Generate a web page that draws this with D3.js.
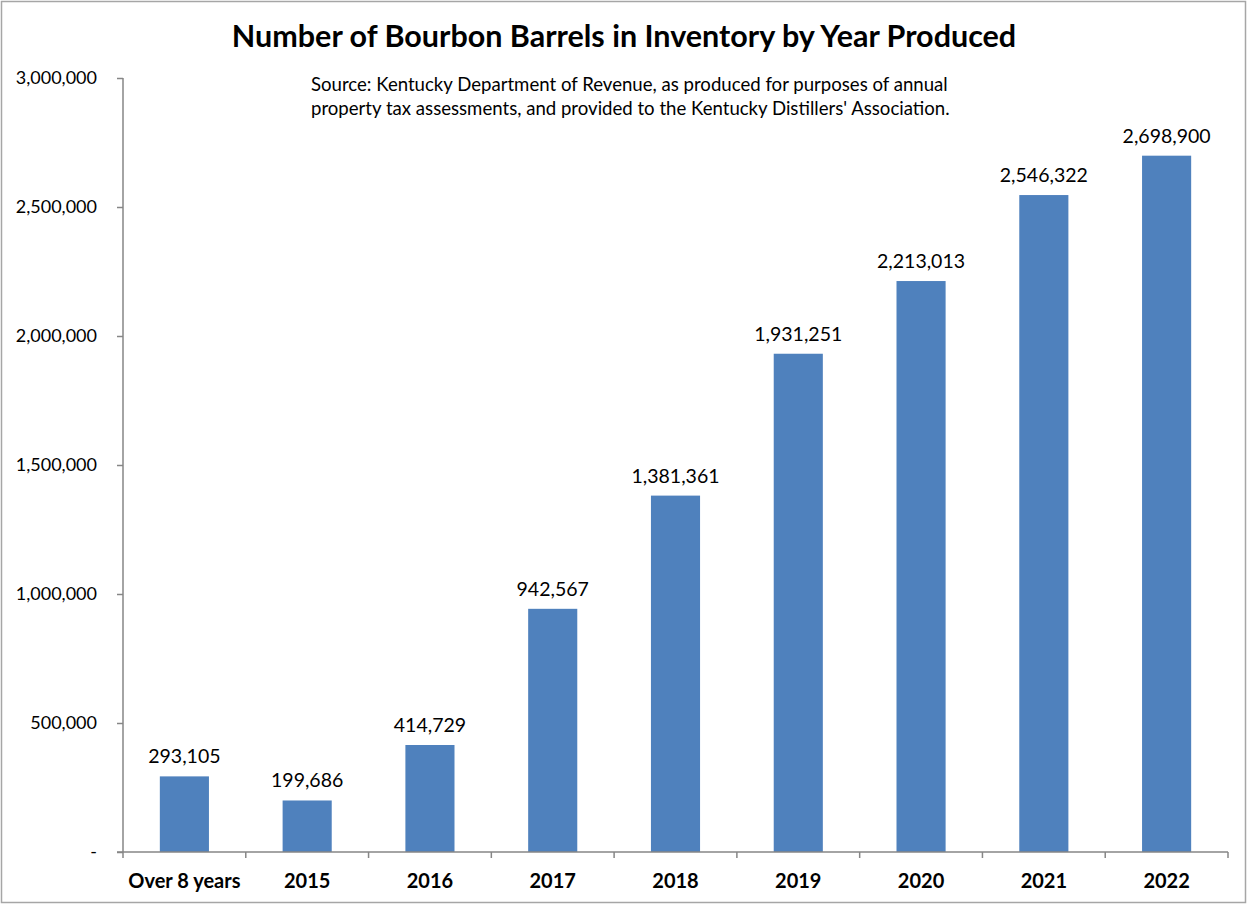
<!DOCTYPE html>
<html>
<head>
<meta charset="utf-8">
<script src="https://cdn.jsdelivr.net/npm/d3@7"></script>
<style>
  html, body { margin: 0; padding: 0; background: #fff; }
  svg { display: block; }
  text { font-family: Lato, "Open Sans", sans-serif; fill: #000; }
</style>
</head>
<body>
<svg id="chart" width="1247" height="904"></svg>
<script>
// Barrels in inventory, by year produced
const categories = ["Over 8 years", "2015", "2016", "2017", "2018", "2019", "2020", "2021", "2022"];
const barrels = [293105, 199686, 414729, 942567, 1381361, 1931251, 2213013, 2546322, 2698900];
const yTicks = [0, 500000, 1000000, 1500000, 2000000, 2500000, 3000000];

const titleText = "Number of Bourbon Barrels in Inventory by Year Produced";
const sourceLines = [
  "Source: Kentucky Department of Revenue, as produced for purposes of annual",
  "property tax assessments, and provided to the Kentucky Distillers' Association."
];

const W = 1247, H = 904;
const margin = { left: 123, right: 19, top: 78, bottom: 52 };
const svg = d3.select("#chart");

// outer frame
svg.append("rect")
  .attr("x", 1.5).attr("y", 1.5)
  .attr("width", W - 3).attr("height", H - 3)
  .attr("fill", "#fff").attr("stroke", "#a6a6a6").attr("stroke-width", 1.5);

const x = d3.scaleBand()
  .domain(categories)
  .range([margin.left, W - margin.right])
  .paddingInner(0.6).paddingOuter(0.3);

const y = d3.scaleLinear()
  .domain([0, 3000000])
  .range([H - margin.bottom, margin.top]);

const fmt = d3.format(",");
const axisColor = "#868686";

// bars
svg.append("g").selectAll("rect")
  .data(barrels)
  .join("rect")
  .attr("x", (d, i) => x(categories[i]))
  .attr("y", d => y(d))
  .attr("width", x.bandwidth())
  .attr("height", d => y(0) - y(d))
  .attr("fill", "#4F81BD");

// value labels
svg.append("g").selectAll("text")
  .data(barrels)
  .join("text")
  .attr("x", (d, i) => x(categories[i]) + x.bandwidth() / 2)
  .attr("y", d => y(d) - 13)
  .attr("text-anchor", "middle")
  .style("font-size", "19.5px")
  .text(d => fmt(d));

// y axis
const yAxis = d3.axisLeft(y)
  .tickValues(yTicks)
  .tickSize(6)
  .tickPadding(20)
  .tickFormat(d => d === 0 ? "-" : fmt(d));
const gy = svg.append("g")
  .attr("transform", `translate(${margin.left},0)`)
  .call(yAxis);
gy.select(".domain").attr("stroke", axisColor).attr("stroke-width", 1.5).attr("d", `M0,${y(0)}V${y(3000000)}`);
gy.selectAll(".tick line").attr("stroke", axisColor).attr("stroke-width", 1.5);
gy.selectAll(".tick text").style("font-size", "18px").attr("fill", "#000")
  .style("font-family", "Lato, sans-serif");

// x axis with ticks on category boundaries
const boundaries = d3.range(categories.length + 1).map(i => margin.left + i * (W - margin.right - margin.left) / categories.length);
const gx = svg.append("g");
gx.append("line")
  .attr("x1", margin.left - 6).attr("x2", W - margin.right)
  .attr("y1", y(0)).attr("y2", y(0))
  .attr("stroke", axisColor).attr("stroke-width", 1.5);
gx.selectAll("line.t")
  .data(boundaries)
  .join("line")
  .attr("class", "t")
  .attr("x1", d => d).attr("x2", d => d)
  .attr("y1", y(0)).attr("y2", y(0) + 6)
  .attr("stroke", axisColor).attr("stroke-width", 1.5);
gx.selectAll("text")
  .data(categories)
  .join("text")
  .attr("x", d => x(d) + x.bandwidth() / 2)
  .attr("y", y(0) + 36)
  .attr("text-anchor", "middle")
  .style("font-size", "20px")
  .style("font-weight", "bold")
  .text(d => d);

// title
svg.append("text")
  .attr("x", 624).attr("y", 47)
  .attr("text-anchor", "middle")
  .style("font-size", "30.5px")
  .style("font-weight", "bold")
  .text(titleText);

// source note
svg.append("g").selectAll("text")
  .data(sourceLines)
  .join("text")
  .attr("x", 311)
  .attr("y", (d, i) => 91 + i * 24)
  .style("font-size", "18.6px")
  .text(d => d);
</script>
</body>
</html>
